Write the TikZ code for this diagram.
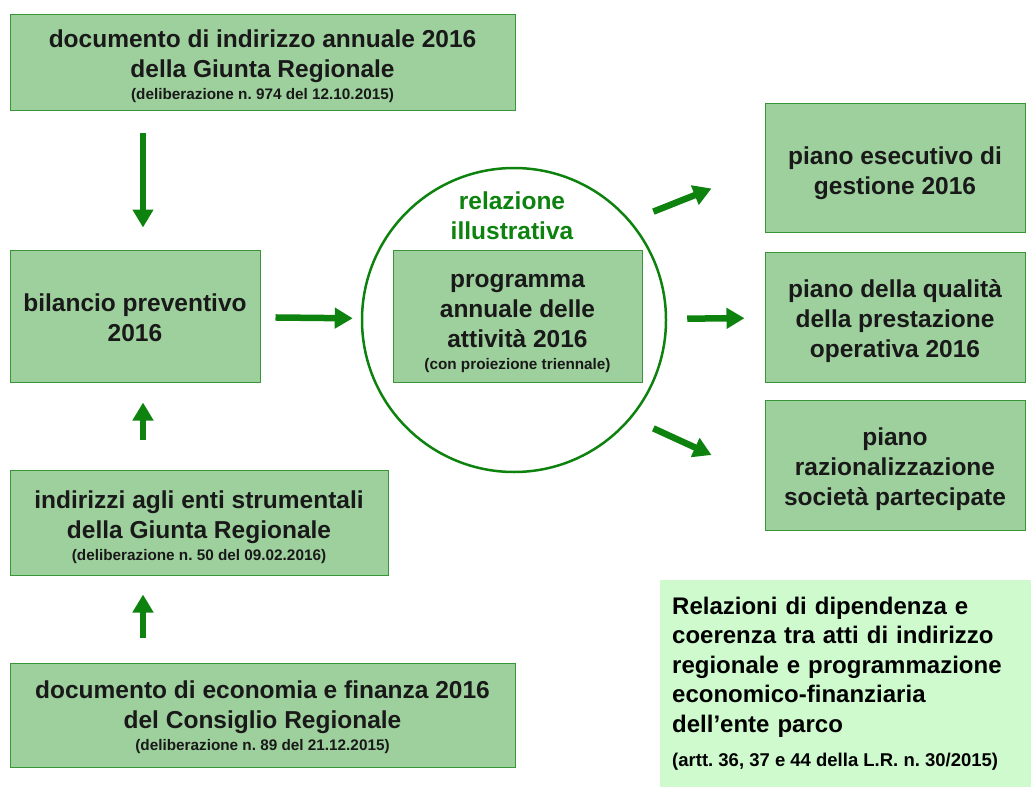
\documentclass[tikz,border=0pt]{standalone}
\usepackage{fontspec}
\setmainfont{Liberation Sans}
\usetikzlibrary{arrows.meta, positioning}
\definecolor{boxfill}{RGB}{158,208,158}
\definecolor{boxline}{RGB}{56,150,56}
\definecolor{arrgreen}{RGB}{14,130,14}
\definecolor{notefill}{RGB}{206,250,206}
\newcommand*{\bigtext}{\fontsize{24.5}{30}\selectfont\bfseries}
\newcommand*{\smalltext}{\fontsize{15.3}{18}\selectfont\bfseries\spaceskip=0pt\xspaceskip=0pt}
\newcommand*{\notetext}{\fontsize{24}{29.5}\selectfont\bfseries}
\newcommand*{\lnup}[1][27pt]{\rule{0pt}{#1}}
\frenchspacing

\begin{document}
\begin{tikzpicture}[x=1pt,y=-1pt,
      act/.style={draw=boxline, fill=boxfill, line width=1pt, align=center, inner sep=0pt, font=\bigtext, text=black!90},
      arr/.style={draw=arrgreen, line width=6.5pt, -{Triangle[length=18pt,width=20pt]}}]
      \useasboundingbox (0,0) rectangle (1031,787);
      % left column
      \node[act, minimum width=505pt, minimum height=96pt] (dia) at (262.5,62)
        {\lnup documento di indirizzo annuale 2016\\della Giunta Regionale\\[-8pt]{\smalltext (deliberazione n. 974 del 12.10.2015)}};
      \node[act, minimum width=250pt, minimum height=132pt] (bil) at (135,316) {\lnup[22pt]bilancio preventivo\\2016};
      \node[act, minimum width=378pt, minimum height=105pt] (ind) at (199,522.5)
        {\lnup indirizzi agli enti strumentali\\della Giunta Regionale\\[-8pt]{\smalltext (deliberazione n. 50 del 09.02.2016)}};
      \node[act, minimum width=505pt, minimum height=104pt] (def) at (262.5,715)
        {\lnup[22pt]documento di economia e finanza 2016\\del Consiglio Regionale\\[-8pt]{\smalltext (deliberazione n. 89 del 21.12.2015)}};
      % centre
      \node[circle, draw=arrgreen, line width=2.5pt, minimum size=304pt] (rel) at (514,320) {};
      \node[act, minimum width=249pt, minimum height=132pt] (pag) at (517.5,316)
        {\lnup[29pt]programma\\annuale delle\\attività 2016\\[-8pt]{\smalltext (con proiezione triennale)}};
      \node[font=\bigtext, text=arrgreen, align=center] (ril) at (512,216) {relazione\\illustrativa};
      % right column
      \node[act, minimum width=260pt, minimum height=129pt] (pes) at (895,167.5) {\lnup[29pt]piano esecutivo di\\gestione 2016};
      \node[act, minimum width=260pt, minimum height=130pt] (pqu) at (895,317) {\lnup piano della qualità\\della prestazione\\operativa 2016};
      \node[act, minimum width=260pt, minimum height=130pt] (prz) at (895,465) {\lnup[26pt]piano\\razionalizzazione\\società partecipate};
      \node[fill=notefill, anchor=north west, minimum width=371pt, minimum height=207pt, text width=347pt,
        inner xsep=12pt, inner ysep=0pt, align=left, font=\notetext] (note) at (660,580)
        {Relazioni di dipendenza e\\coerenza tra atti di indirizzo\\regionale e programmazione\\economico-finanziaria\\dell’ente parco\\[5pt]{\fontsize{18.5}{20}\selectfont\spaceskip=0pt\xspaceskip=0pt (artt. 36, 37 e 44 della L.R. n. 30/2015)}};
      % arrows
      \draw[arr, shorten <=22pt, shorten >=22pt] ([xshift=8pt]bil.north |- dia.south) -- ([xshift=8pt]bil.north);
      \draw[arr, shorten <=30pt, shorten >=20pt] ([xshift=8pt]bil.south |- ind.north) -- ([xshift=8pt]bil.south);
      \draw[arr, shorten <=25pt, shorten >=19pt] ([xshift=8pt]bil.south |- def.north) -- ([xshift=8pt]bil.south |- ind.south);
      \draw[arr, shorten <=15pt, shorten >=8pt] (bil) -- (rel);
      \draw[arr] ([xshift=31pt]rel.north east) -- ([xshift=-53pt,yshift=-21pt]pes.west);
      \draw[arr, shorten <=20pt, shorten >=20pt] (rel) -- (pqu);
      \draw[arr] ([xshift=31pt]rel.south east) -- ([xshift=-53pt,yshift=10pt]prz.west);
    \end{tikzpicture}
\end{document}
